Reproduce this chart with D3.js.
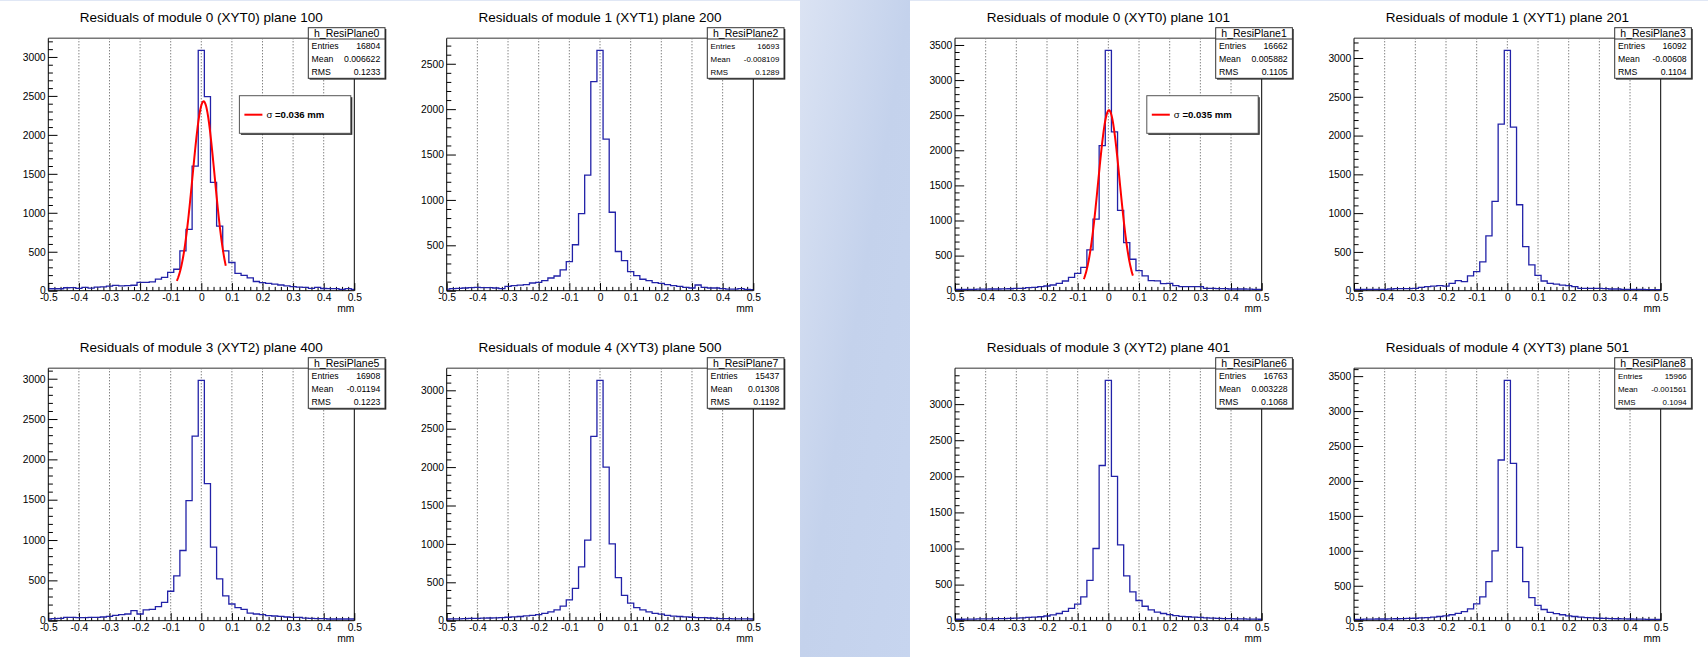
<!DOCTYPE html>
<html><head><meta charset="utf-8">
<script src="https://cdn.jsdelivr.net/npm/d3@7"></script>
<style>
html,body{margin:0;padding:0;background:#fff;}
svg{display:block;font-family:"Liberation Sans",Arial,Helvetica,sans-serif;}
</style></head><body>
<svg id="c" width="1708" height="657"></svg>
<script>
// ---------------- DATA ----------------
const titles = [
  "Residuals of module 0 (XYT0) plane 100",
  "Residuals of module 1 (XYT1) plane 200",
  "Residuals of module 0 (XYT0) plane 101",
  "Residuals of module 1 (XYT1) plane 201",
  "Residuals of module 3 (XYT2) plane 400",
  "Residuals of module 4 (XYT3) plane 500",
  "Residuals of module 3 (XYT2) plane 401",
  "Residuals of module 4 (XYT3) plane 501"
];
const histNames = ["h_ResiPlane0","h_ResiPlane2","h_ResiPlane1","h_ResiPlane3","h_ResiPlane5","h_ResiPlane7","h_ResiPlane6","h_ResiPlane8"];
const entries = ["16804","16693","16662","16092","16908","15437","16763","15966"];
const means   = ["0.006622","-0.008109","0.005882","-0.00608","-0.01194","0.01308","0.003228","-0.001561"];
const rmsVals = ["0.1233","0.1289","0.1105","0.1104","0.1223","0.1192","0.1068","0.1094"];

// bin contents, bins of width 0.02 centred on -0.50, -0.48, ..., 0.50
const counts100 = [25,25,25,38,40,30,42,32,45,50, 60,68,62,65,70,108,108,112,148,172, 235,275,510,788,1600, 3085, 2490,1390,830,510,362, 222,197,165,118,103, 94,85,73,62,52, 45,42,30,42,28, 26,26,18,26,18];
const counts200 = [18,22,26,30,33,37,33,33,30,22, 48,55,62,66,85,92,111,140,162,229, 321,506,849,1274,2304, 2648, 1669,864,432,332,210, 166,126,111,89,81, 66,55,48,37,30, 63,37,30,30,22, 18,18,22,15,12];
const counts101 = [19,19,19,19,22,22,24,24,26,28, 33,33,43,48,57,67,81,105,138,190, 248,333,581,1019,2067, 3424, 2262,1143,686,448,286, 210,143,140,100,105, 71,57,57,57,57, 33,33,29,29,24, 24,24,22,19,19];
const counts201 = [17,17,17,18,18,17,22,26,26,26, 30,43,52,60,65,60,95,129,116,190, 246,371,707,1151,2147, 3099, 2108,1108,569,332,198, 125,95,86,73,65, 52,30,30,30,30, 26,22,22,17,17, 17,17,15,15,13];
const counts400 = [21,25,29,41,41,37,37,41,41,46, 54,66,75,83,124,83,133,141,174,228, 365,555,870,1488,2288, 2980, 1699,912,518,307,207, 162,141,95,83,75, 62,58,54,46,41, 41,33,29,25,25, 21,21,21,21,21];
const counts500 = [22,25,25,28,30,30,33,35,38,40, 45,50,55,62,70,80,95,115,140,190, 270,420,700,1050,2400, 3130, 2000,1000,560,330,230, 170,140,115,95,85, 70,60,55,50,45, 40,40,35,30,28, 28,25,25,25,22];
const counts401 = [20,20,22,22,24,24,26,28,30,33, 35,40,45,50,55,65,80,100,130,170, 230,330,560,1000,2150, 3330, 2000,1050,620,400,280, 200,150,120,100,85, 70,60,55,50,45, 40,35,33,30,28, 26,24,22,22,20];
const counts501 = [20,20,22,22,24,24,26,28,30,33, 35,40,45,50,60,70,85,105,130,170, 240,340,560,1000,2300, 3440, 2250,1050,560,330,220, 160,120,100,85,70, 60,50,45,40,35, 33,30,28,26,24, 22,22,20,20,20];

const xTickValues = [-0.5,-0.4,-0.3,-0.2,-0.1,0,0.1,0.2,0.3,0.4,0.5];
const xTickLabels = ["-0.5","-0.4","-0.3","-0.2","-0.1","0","0.1","0.2","0.3","0.4","0.5"];
const xLabel = "mm";

// Gaussian fits (panels 0 and 2)
const fitPanel = [0, 2];
const fitConst = [2430, 2570];
const fitMean  = [0.0075, 0.002];
const fitSigma = [0.036, 0.035];
const fitLo    = [-0.08, -0.08];
const fitHi    = [0.08, 0.08];
const fitLabel = ["=0.036 mm", "=0.035 mm"];

// ---------------- LAYOUT ----------------
const allCounts = [counts100, counts200, counts101, counts201, counts400, counts500, counts401, counts501];
const colX = [[48.3,354.3],[446.7,753.3],[955,1261.7],[1354,1660.7]];
const rowY = [[38.3,290.7],[368.3,620.7]];
const binW = 0.02, xMin = -0.5, xMax = 0.5;

const svg = d3.select("#c");
const defs = svg.append("defs");
const grad = defs.append("linearGradient").attr("id","band").attr("x1","0").attr("y1","0").attr("x2","1").attr("y2","1");
grad.append("stop").attr("offset","0").attr("stop-color","#dbe3f3");
grad.append("stop").attr("offset","0.5").attr("stop-color","#c4d2ec");
grad.append("stop").attr("offset","1").attr("stop-color","#c7d5ef");

svg.append("rect").attr("x",0).attr("y",0).attr("width",1708).attr("height",657).attr("fill","#fff");
svg.append("rect").attr("x",0).attr("y",0).attr("width",1708).attr("height",1).attr("fill","#e0e7f5");
svg.append("rect").attr("x",800).attr("y",0).attr("width",110).attr("height",657).attr("fill","url(#band)");

function drawPanel(i) {
  const data = allCounts[i];
  const [fl, fr] = colX[i % 4];
  const [ft, fb] = rowY[Math.floor(i / 4)];
  const g = svg.append("g");
  const yMaxV = d3.max(data) * 1.05;
  const x = d3.scaleLinear().domain([xMin, xMax]).range([fl, fr]);
  const y = d3.scaleLinear().domain([0, yMaxV]).range([fb, ft]);

  // grid
  g.selectAll("line.grid").data(xTickValues.filter(v => v > xMin && v < xMax)).join("line")
    .attr("x1", d => x(d)).attr("x2", d => x(d)).attr("y1", ft).attr("y2", fb)
    .attr("stroke", "#222").attr("stroke-width", 0.8).attr("stroke-dasharray", "1,2");

  // ticks
  const yMajor = d3.range(0, yMaxV, 500);
  const yMinor = d3.range(0, yMaxV, 100).filter(v => v % 500 !== 0);
  const xMinor = d3.range(0, 51).map(k => +(xMin + k * binW).toFixed(2)).filter(v => Math.abs(Math.round(v * 10) - v * 10) > 1e-6);

  const styleAxis = sel => {
    sel.select(".domain").remove();
    sel.selectAll("line").attr("stroke", "#000").attr("stroke-width", 1);
    sel.selectAll("text").attr("font-size", 10.3).attr("fill", "#000")
      .attr("font-family", '"Liberation Sans",Arial,Helvetica,sans-serif');
  };

  g.append("g").attr("transform", `translate(${fl},0)`)
    .call(d3.axisLeft(y).tickValues(yMinor).tickSize(-4.6).tickFormat(""))
    .call(styleAxis);
  g.append("g").attr("transform", `translate(${fl},0)`)
    .call(d3.axisLeft(y).tickValues(yMajor).tickSize(-9.2).tickPadding(2.7).tickFormat(d3.format("d")))
    .call(styleAxis);
  g.append("g").attr("transform", `translate(0,${fb})`)
    .call(d3.axisBottom(x).tickValues(xMinor).tickSize(-3.8).tickFormat(""))
    .call(styleAxis);
  g.append("g").attr("transform", `translate(0,${fb})`)
    .call(d3.axisBottom(x).tickValues(xTickValues).tickSize(-7.6).tickPadding(3.3).tickFormat((d, k) => xTickLabels[k]))
    .call(styleAxis);

  // histogram outline (step)
  const pts = data.map((c, k) => [Math.max(xMin, xMin + k * binW - binW / 2), c]);
  pts.push([xMax, data[data.length - 1]]);
  const stepLine = d3.line().x(d => x(d[0])).y(d => y(d[1])).curve(d3.curveStepAfter);
  g.append("path").attr("d", stepLine(pts)).attr("fill", "none")
    .attr("stroke", "#2222a8").attr("stroke-width", 1.3);

  // fit
  const fi = fitPanel.indexOf(i);
  if (fi >= 0) {
    const xs = d3.range(0, 121).map(k => fitLo[fi] + (fitHi[fi] - fitLo[fi]) * k / 120);
    const gl = d3.line().x(v => x(v))
      .y(v => y(fitConst[fi] * Math.exp(-0.5 * Math.pow((v - fitMean[fi]) / fitSigma[fi], 2))));
    g.append("path").attr("d", gl(xs)).attr("fill", "none").attr("stroke", "#ff0000").attr("stroke-width", 2);

    // legend
    const lw = 111.4, lh = 37.6, lx = fr - 3.5 - lw, ly = ft + 57.4;
    g.append("rect").attr("x", lx + 1.5).attr("y", ly + 1.5).attr("width", lw).attr("height", lh).attr("fill", "#222");
    g.append("rect").attr("x", lx).attr("y", ly).attr("width", lw).attr("height", lh).attr("fill", "#fff").attr("stroke", "#555").attr("stroke-width", 1);
    g.append("line").attr("x1", lx + 5).attr("x2", lx + 23).attr("y1", ly + 19).attr("y2", ly + 19).attr("stroke", "#ff0000").attr("stroke-width", 2);
    const t = g.append("text").attr("x", lx + 27).attr("y", ly + 22.3).attr("font-size", 9.6).attr("fill", "#000");
    t.append("tspan").text("σ ");
    t.append("tspan").attr("font-weight", "bold").text(fitLabel[fi]);
  }

  // frame
  g.append("line").attr("x1", fl).attr("x2", fr).attr("y1", ft).attr("y2", ft).attr("stroke", "#777").attr("stroke-width", 1.4);
  g.append("line").attr("x1", fl).attr("x2", fl).attr("y1", ft).attr("y2", fb).attr("stroke", "#000").attr("stroke-width", 1);
  g.append("line").attr("x1", fr).attr("x2", fr).attr("y1", ft).attr("y2", fb).attr("stroke", "#000").attr("stroke-width", 1);
  g.append("line").attr("x1", fl).attr("x2", fr).attr("y1", fb).attr("y2", fb).attr("stroke", "#000").attr("stroke-width", 1);

  // axis label
  g.append("text").attr("x", fr).attr("y", fb + 21).attr("text-anchor", "end").attr("font-size", 10.3).text(xLabel);

  // title
  g.append("text").attr("x", (fl + fr) / 2).attr("y", ft - 16.6).attr("text-anchor", "middle")
    .attr("font-size", 13.5).attr("fill", "#000").text(titles[i]);

  // stats box
  const sw = 76.7, sh = 50.6, sx = fr - 46, sy = ft - 10.6;
  g.append("rect").attr("x", sx + 1.3).attr("y", sy + 1.3).attr("width", sw).attr("height", sh).attr("fill", "#222");
  g.append("rect").attr("x", sx).attr("y", sy).attr("width", sw).attr("height", sh).attr("fill", "#fff").attr("stroke", "#333").attr("stroke-width", 1);
  g.append("line").attr("x1", sx).attr("x2", sx + sw).attr("y1", ft + 0.7).attr("y2", ft + 0.7).attr("stroke", "#333").attr("stroke-width", 1);
  g.append("text").attr("x", sx + sw / 2).attr("y", ft - 1.3).attr("text-anchor", "middle").attr("font-size", 10.5).text(histNames[i]);
  const rows = [["Entries", entries[i]], ["Mean", means[i]], ["RMS", rmsVals[i]]];
  let fs = 8.7;
  if (means[i].length > 8) fs = 7.9;
  rows.forEach((r, k) => {
    g.append("text").attr("x", sx + 3.3).attr("y", ft + 10.7 + 13 * k).attr("font-size", fs).text(r[0]);
    g.append("text").attr("x", sx + sw - 4.7).attr("y", ft + 10.7 + 13 * k).attr("text-anchor", "end").attr("font-size", fs).text(r[1]);
  });
}

for (let i = 0; i < 8; i++) drawPanel(i);
</script>
</body></html>
